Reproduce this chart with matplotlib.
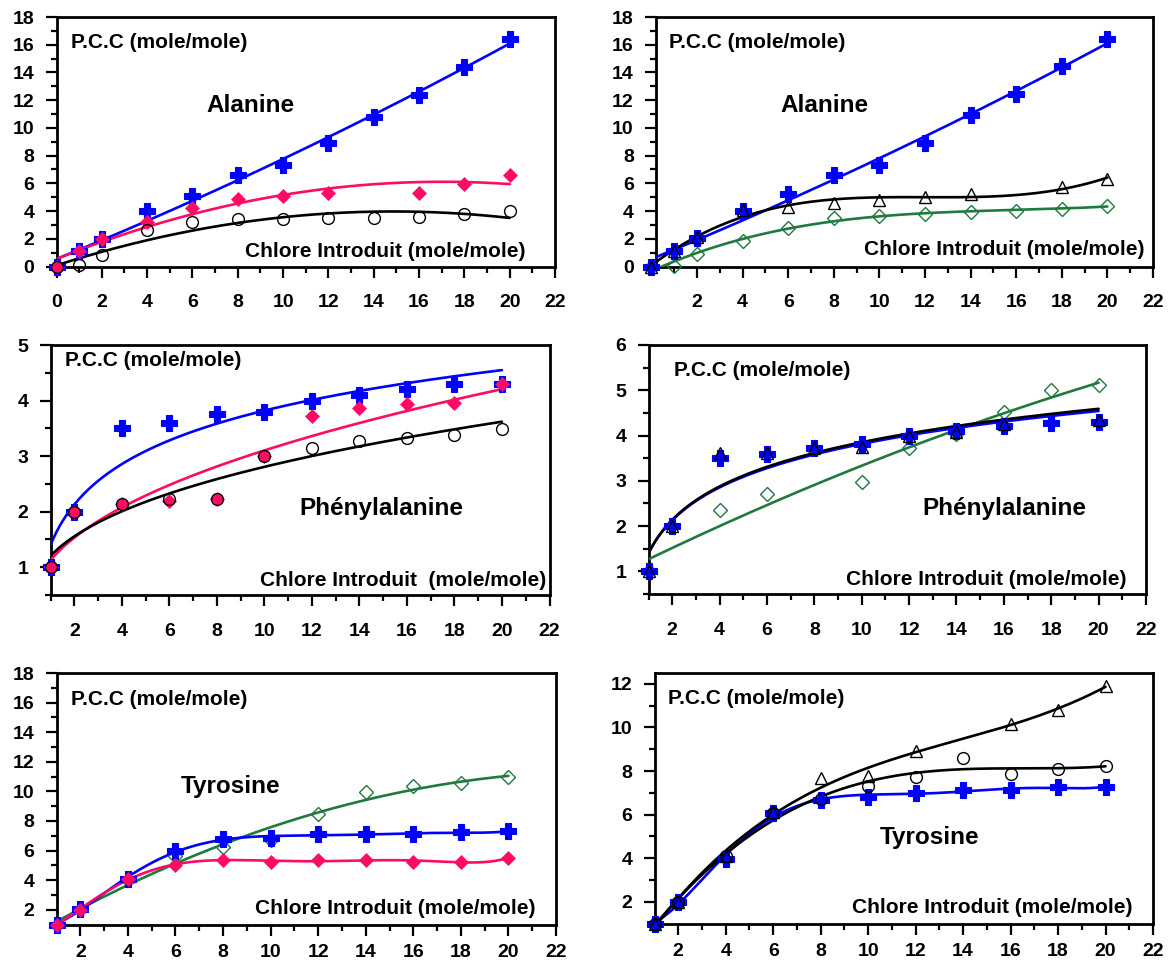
import numpy as np
import matplotlib
matplotlib.use("Agg")
import matplotlib.pyplot as plt
from matplotlib.ticker import MultipleLocator

plt.rcParams['font.family'] = ['Liberation Sans', 'DejaVu Sans']
plt.rcParams['font.weight'] = 'bold'

# ---------------- data ----------------
# Alanine (left)
x_ala = [0, 1, 2, 4, 6, 8, 10, 12, 14, 16, 18, 20]
ala1_plus = [0, 1.1, 2.0, 4.0, 5.1, 6.6, 7.3, 8.9, 10.8, 12.4, 14.4, 16.4]
x_ala1_dia = [0, 1, 2, 4, 6, 8, 10, 12, 16, 18, 20]
ala1_dia = [0, 1.1, 2.0, 3.2, 4.2, 4.85, 5.1, 5.3, 5.3, 5.95, 6.6]
ala1_circ = [0, 0.1, 0.8, 2.65, 3.2, 3.4, 3.45, 3.5, 3.5, 3.55, 3.8, 4.0]

# Alanine (right)
ala2_plus = [0, 1.1, 2.05, 4.0, 5.2, 6.6, 7.35, 8.9, 10.9, 12.45, 14.45, 16.4]
x_ala2_tri = [0, 1, 2, 4, 6, 8, 10, 12, 14, 18, 20]
ala2_tri = [0, 1.15, 2.15, 4.1, 4.3, 4.6, 4.8, 5.0, 5.2, 5.7, 6.3]
ala2_gdia = [0, 0.05, 0.9, 1.85, 2.8, 3.5, 3.65, 3.8, 3.95, 4.0, 4.15, 4.4]

# Phenylalanine (left)
x_phe = [1, 2, 4, 6, 8, 10, 12, 14, 16, 18, 20]
phe1_plus = [1.0, 2.0, 3.5, 3.6, 3.75, 3.8, 4.0, 4.1, 4.2, 4.3, 4.3]
phe1_dia = [1.0, 2.0, 2.14, 2.2, 2.22, 3.0, 3.73, 3.87, 3.93, 3.95, 4.3]
phe1_circ = [1.0, 2.0, 2.13, 2.22, 2.23, 3.0, 3.14, 3.27, 3.33, 3.38, 3.48]

# Phenylalanine (right)
phe2_plus = [1.0, 2.0, 3.5, 3.6, 3.73, 3.82, 4.0, 4.1, 4.2, 4.28, 4.29]
x_phe2_tri = [1, 2, 4, 6, 8, 10, 12, 14, 16, 20]
phe2_tri = [1.0, 2.0, 3.62, 3.62, 3.73, 3.75, 4.0, 4.08, 4.25, 4.34]
x_phe2_gdia = [1, 4, 6, 10, 12, 14, 16, 18, 20]
phe2_gdia = [1.0, 2.35, 2.7, 2.97, 3.73, 4.03, 4.53, 5.0, 5.12]

# Tyrosine (left)
x_tyr = [1, 2, 4, 6, 8, 10, 12, 14, 16, 18, 20]
tyr1_plus = [1.0, 2.05, 4.1, 6.0, 6.75, 6.86, 7.1, 7.1, 7.12, 7.22, 7.3]
tyr1_dia = [1.0, 2.0, 4.08, 5.05, 5.35, 5.25, 5.35, 5.35, 5.25, 5.25, 5.5]
tyr1_gdia = [1.0, 2.0, 4.0, 5.65, 6.25, 6.7, 8.45, 9.95, 10.35, 10.55, 10.95]

# Tyrosine (right)
tyr2_plus = [1.0, 2.0, 3.96, 6.06, 6.67, 6.82, 7.0, 7.12, 7.12, 7.25, 7.28]
x_tyr2_tri = [1, 2, 4, 6, 8, 10, 12, 16, 18, 20]
tyr2_tri = [1.0, 2.0, 4.1, 6.1, 7.67, 7.77, 8.92, 10.16, 10.8, 11.9]
tyr2_circ = [1.0, 2.0, 4.1, 6.09, 6.72, 7.33, 7.74, 8.6, 7.87, 8.1, 8.25]

# ---------------- styles ----------------
BLUE = '#0000FF'
PINK = '#FF0A64'
GREEN = '#1E7A3E'
BLACK = '#000000'
LW = 1.9

W, H = 1171, 969
fig = plt.figure(figsize=(W / 100, H / 100), dpi=100)


def add_ax(l, r, t, b):
    return fig.add_axes([l / W, 1 - b / H, (r - l) / W, (b - t) / H])


def trend(x, y, kind, deg=2, n=300):
    x = np.asarray(x, float)
    y = np.asarray(y, float)
    xs = np.linspace(x.min(), x.max(), n)
    if kind == 'poly':
        c = np.polyfit(x, y, deg)
        return xs, np.polyval(c, xs)
    if kind == 'log':
        c = np.polyfit(np.log(x), y, 1)
        return xs, np.polyval(c, np.log(xs))
    if kind == 'power':
        c = np.polyfit(np.log(x), np.log(y), 1)
        return xs, np.exp(np.polyval(c, np.log(xs)))


def line(ax, x, y, kind, color, deg=2, z=3):
    xs, ys = trend(x, y, kind, deg)
    ax.plot(xs, ys, color=color, lw=LW, zorder=z, solid_capstyle='round')


def plus(ax, x, y, z=5):
    ax.plot(x, y, ls='none', marker='P', ms=11, color=BLUE, mec=BLUE, mew=0.8,
            zorder=z, clip_on=False)


def pdia(ax, x, y, z=6):
    ax.plot(x, y, ls='none', marker='D', ms=7.2, color=PINK, mec=PINK, mew=0.5,
            zorder=z, clip_on=False)


def gdia(ax, x, y, z=5):
    ax.plot(x, y, ls='none', marker='D', ms=7.0, mfc='none', mec=GREEN, mew=1.0,
            zorder=z, clip_on=False)


def circ(ax, x, y, z=7):
    ax.plot(x, y, ls='none', marker='o', ms=8.5, mfc='none', mec=BLACK, mew=1.0,
            zorder=z, clip_on=False)


def tri(ax, x, y, z=7):
    ax.plot(x, y, ls='none', marker='^', ms=9, mfc='none', mec=BLACK, mew=1.0,
            zorder=z, clip_on=False)


def style(ax, xlim, ylim, ymaj, ymin, xpad=12):
    ax.set_xlim(*xlim)
    ax.set_ylim(*ylim)
    ax.xaxis.set_major_locator(MultipleLocator(2))
    ax.xaxis.set_minor_locator(MultipleLocator(1))
    ax.yaxis.set_major_locator(MultipleLocator(ymaj))
    ax.yaxis.set_minor_locator(MultipleLocator(ymin))
    for s in ax.spines.values():
        s.set_linewidth(2.0)
    ax.tick_params(which='both', direction='out', top=False, right=False, width=1.6)
    ax.tick_params(which='major', length=8, labelsize=14)
    ax.tick_params(which='minor', length=4.5)
    ax.tick_params(axis='x', which='major', pad=xpad)
    ax.tick_params(axis='y', which='major', pad=8)
    for lab in ax.get_xticklabels() + ax.get_yticklabels():
        lab.set_fontweight('bold')


def texts(ax, pcc, name, chl, chl_text='Chlore Introduit (mole/mole)'):
    ax.text(pcc[0], pcc[1], 'P.C.C (mole/mole)', transform=ax.transAxes,
            fontsize=15, fontweight='bold', ha='left', va='center', zorder=10)
    ax.text(name[0], name[1], name[2], transform=ax.transAxes,
            fontsize=17.5, fontweight='bold', ha='left', va='center', zorder=10)
    ax.text(chl[0], chl[1], chl_text, transform=ax.transAxes,
            fontsize=15, fontweight='bold', ha='right', va='center', zorder=10)


# ---------------- Panel 1 : Alanine (left) ----------------
ax1 = add_ax(56.5, 555, 17, 266.5)
style(ax1, (0, 22), (0, 18), 2, 1, xpad=12)
line(ax1, x_ala, ala1_plus, 'poly', BLUE, 2, 3)
line(ax1, x_ala1_dia, ala1_dia, 'poly', PINK, 2, 3.1)
line(ax1, x_ala, ala1_circ, 'poly', BLACK, 2, 3.2)
plus(ax1, x_ala, ala1_plus)
pdia(ax1, x_ala1_dia, ala1_dia)
circ(ax1, x_ala, ala1_circ)
texts(ax1, (0.029, 0.896), (0.30, 0.644, 'Alanine'), (0.94, 0.06))

# ---------------- Panel 2 : Alanine (right) ----------------
ax2 = add_ax(656, 1153, 17, 266.5)
style(ax2, (0.2, 22), (0, 18), 2, 1, xpad=12)
line(ax2, x_ala, ala2_gdia, 'poly', GREEN, 3, 3)
line(ax2, x_ala, ala2_plus, 'poly', BLUE, 2, 3.1)
line(ax2, x_ala2_tri, ala2_tri, 'poly', BLACK, 3, 3.2)
gdia(ax2, x_ala, ala2_gdia)
plus(ax2, x_ala, ala2_plus)
tri(ax2, x_ala2_tri, ala2_tri)
texts(ax2, (0.026, 0.896), (0.251, 0.644, 'Alanine'), (0.982, 0.068))

# ---------------- Panel 3 : Phenylalanine (left) ----------------
ax3 = add_ax(50.5, 549.5, 345, 595)
style(ax3, (1, 22), (0.5, 5), 1, 0.5, xpad=12.5)
line(ax3, x_phe, phe1_plus, 'log', BLUE, z=3)
line(ax3, x_phe, phe1_dia, 'power', PINK, z=3.1)
line(ax3, x_phe, phe1_circ, 'power', BLACK, z=3.2)
plus(ax3, x_phe, phe1_plus)
pdia(ax3, x_phe, phe1_dia)
circ(ax3, x_phe, phe1_circ)
texts(ax3, (0.03, 0.94), (0.499, 0.348, 'Phénylalanine'), (0.993, 0.06),
      'Chlore Introduit  (mole/mole)')

# ---------------- Panel 4 : Phenylalanine (right) ----------------
ax4 = add_ax(648.5, 1146, 345, 594)
style(ax4, (1, 22), (0.5, 6), 1, 0.5, xpad=12.5)
line(ax4, x_phe2_gdia, phe2_gdia, 'poly', GREEN, 2, 3)
line(ax4, x_phe, phe2_plus, 'log', BLUE, z=3.1)
line(ax4, x_phe2_tri, phe2_tri, 'log', BLACK, z=3.2)
gdia(ax4, x_phe2_gdia, phe2_gdia)
plus(ax4, x_phe, phe2_plus)
tri(ax4, x_phe2_tri, phe2_tri)
texts(ax4, (0.051, 0.897), (0.55, 0.344, 'Phénylalanine'), (0.96, 0.059))

# ---------------- Panel 5 : Tyrosine (left) ----------------
ax5 = add_ax(56.5, 556, 673, 924.5)
style(ax5, (1, 22), (1, 18), 2, 1, xpad=6)
line(ax5, x_tyr, tyr1_gdia, 'poly', GREEN, 2, 3)
line(ax5, x_tyr, tyr1_plus, 'poly', BLUE, 6, 3.1)
line(ax5, x_tyr, tyr1_dia, 'poly', PINK, 6, 3.2)
gdia(ax5, x_tyr, tyr1_gdia)
plus(ax5, x_tyr, tyr1_plus)
pdia(ax5, x_tyr, tyr1_dia)
texts(ax5, (0.029, 0.893), (0.249, 0.549, 'Tyrosine'), (0.959, 0.062))

# ---------------- Panel 6 : Tyrosine (right) ----------------
ax6 = add_ax(654.5, 1153, 673, 923.5)
style(ax6, (1, 22), (1, 12.5), 2, 1, xpad=6)
line(ax6, x_tyr, tyr2_plus, 'poly', BLUE, 6, 3)
line(ax6, x_tyr, tyr2_circ, 'poly', BLACK, 4, 3.1)
line(ax6, x_tyr2_tri, tyr2_tri, 'poly', BLACK, 3, 3.2)
plus(ax6, x_tyr, tyr2_plus)
circ(ax6, x_tyr, tyr2_circ)
tri(ax6, x_tyr2_tri, tyr2_tri)
texts(ax6, (0.028, 0.899), (0.451, 0.345, 'Tyrosine'), (0.959, 0.0625))

fig.savefig('out.png', dpi=100)
